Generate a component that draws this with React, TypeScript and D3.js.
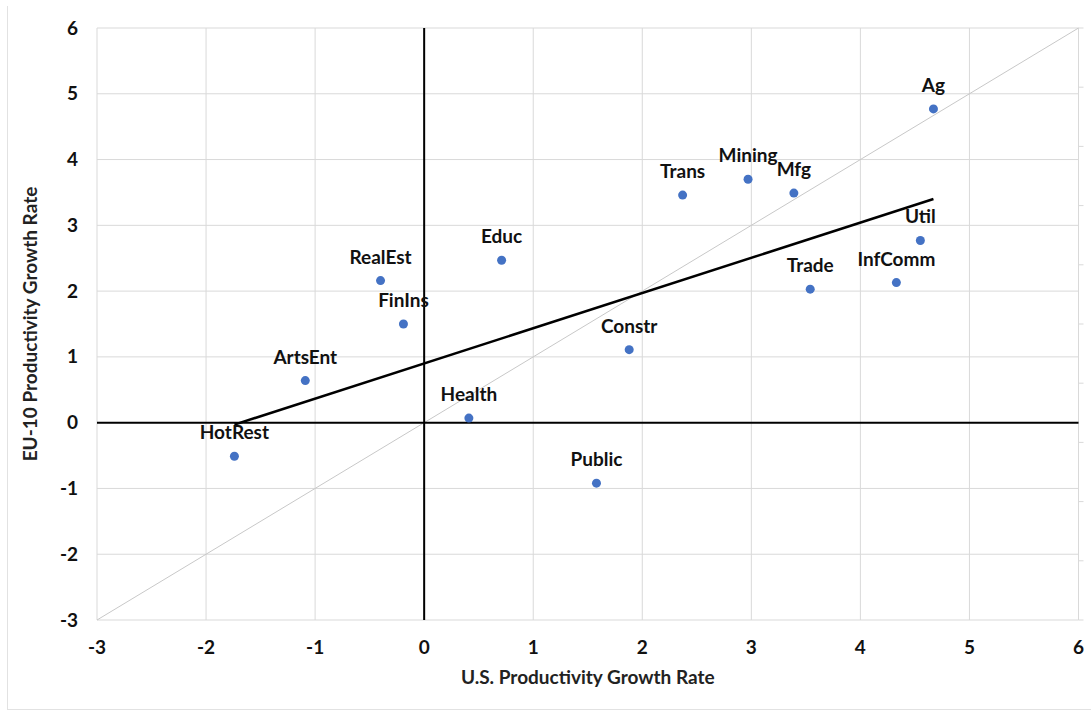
import React from "react";
import * as d3 from "d3";

const sectors = ["Ag", "Mfg", "Mining", "Trans", "Util", "InfComm", "Trade", "Educ", "RealEst", "FinIns", "ArtsEnt", "HotRest", "Health", "Constr", "Public"];
const usGrowth = [4.67, 3.39, 2.97, 2.37, 4.55, 4.33, 3.54, 0.71, -0.40, -0.19, -1.09, -1.74, 0.41, 1.88, 1.58];
const euGrowth = [4.77, 3.49, 3.70, 3.46, 2.77, 2.13, 2.03, 2.47, 2.16, 1.50, 0.64, -0.51, 0.07, 1.11, -0.92];
const trendX = [-1.74, 4.67];
const trendY = [-0.03, 3.40];
const diagonal = [-3, 6];
const xTicks = [-3, -2, -1, 0, 1, 2, 3, 4, 5, 6];
const yTicks = [-3, -2, -1, 0, 1, 2, 3, 4, 5, 6];
const rightTicks = d3.range(0, 11);

const W = 1091, H = 711;
const M = { left: 97, right: 1078.5, top: 28, bottom: 620 };
const FONT = "Lato, 'Liberation Sans', sans-serif";

export default function App() {
  const x = d3.scaleLinear().domain([-3, 6]).range([M.left, M.right]);
  const y = d3.scaleLinear().domain([-3, 6]).range([M.bottom, M.top]);
  const yr = d3.scaleLinear().domain([0, 10]).range([M.bottom, M.top]);
  const line = d3.line<number>().x((d, i) => x(trendX[i])).y((d, i) => y(trendY[i]));
  const grid = "#d9d9d9";
  return (
    <svg width={W} height={H} style={{ position: "absolute", left: 0, top: 0, background: "#fff" }}>
      <line x1={7.5} x2={7.5} y1={6} y2={710} stroke="#e2e2e2" />
      <line x1={7.5} x2={W} y1={709.5} y2={709.5} stroke="#e2e2e2" />
      {xTicks.map(t => (
        <line key={"gx" + t} x1={x(t)} x2={x(t)} y1={M.top} y2={M.bottom} stroke={grid} strokeWidth={1} />
      ))}
      {yTicks.map(t => (
        <line key={"gy" + t} x1={M.left} x2={M.right} y1={y(t)} y2={y(t)} stroke={grid} strokeWidth={1} />
      ))}
      {rightTicks.map(t => (
        <line key={"rt" + t} x1={M.right} x2={M.right + 5} y1={yr(t)} y2={yr(t)} stroke={grid} />
      ))}
      <line x1={x(diagonal[0])} y1={y(diagonal[0])} x2={x(diagonal[1])} y2={y(diagonal[1])} stroke="#c8c8c8" strokeWidth={1} />
      <line x1={x(0)} x2={x(0)} y1={M.top} y2={M.bottom} stroke="#000" strokeWidth={2} />
      <line x1={M.left} x2={M.right} y1={y(0)} y2={y(0)} stroke="#000" strokeWidth={2} />
      <path d={line(trendX) || ""} fill="none" stroke="#000" strokeWidth={2.5} />
      {sectors.map((s, i) => (
        <g key={s}>
          <circle cx={x(usGrowth[i])} cy={y(euGrowth[i])} r={4.5} fill="#4472C4" />
          <text x={x(usGrowth[i])} y={y(euGrowth[i]) - 17} textAnchor="middle" fontFamily={FONT} fontWeight="bold" fontSize={19} fill="#111">{s}</text>
        </g>
      ))}
      {yTicks.map(t => (
        <text key={"yl" + t} x={78} y={y(t) + 6.5} textAnchor="end" fontFamily={FONT} fontWeight="bold" fontSize={19} fill="#111">{t}</text>
      ))}
      {xTicks.map(t => (
        <text key={"xl" + t} x={x(t)} y={654} textAnchor="middle" fontFamily={FONT} fontWeight="bold" fontSize={19} fill="#111">{t}</text>
      ))}
      <text x={(M.left + M.right) / 2} y={684} textAnchor="middle" fontFamily={FONT} fontWeight="bold" fontSize={19} fill="#222">U.S. Productivity Growth Rate</text>
      <text transform={`translate(37, ${(M.top + M.bottom) / 2}) rotate(-90)`} textAnchor="middle" fontFamily={FONT} fontWeight="bold" fontSize={19} fill="#222">EU-10 Productivity Growth Rate</text>
    </svg>
  );
}
